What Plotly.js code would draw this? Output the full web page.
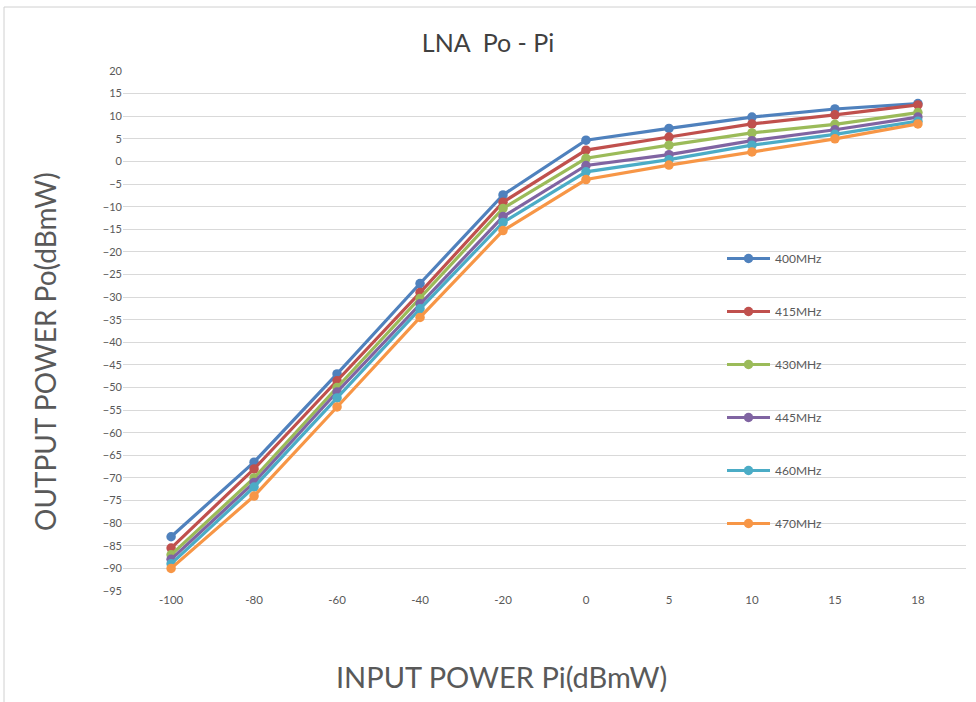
<!DOCTYPE html>
<html>
<head>
<meta charset="utf-8">
<script src="https://cdn.plot.ly/plotly-3.0.1.min.js"></script>
<style>html,body{margin:0;padding:0;background:#fff;}#chart{width:976px;height:702px;}</style>
</head>
<body>
<div id="chart"></div>
<script>
const inputPower = ["-100", "-80", "-60", "-40", "-20", "0", "5", "10", "15", "18"];
const seriesNames = ["400MHz", "415MHz", "430MHz", "445MHz", "460MHz", "470MHz"];
const po400 = [-83, -66.5, -47, -27, -7.4, 4.7, 7.3, 9.8, 11.6, 12.8];
const po415 = [-85.5, -68, -48.5, -29, -9, 2.5, 5.4, 8.3, 10.3, 12.5];
const po430 = [-87, -70, -50, -30.3, -10.4, 0.7, 3.6, 6.3, 8.2, 10.8];
const po445 = [-88, -71, -51, -31.5, -12.2, -0.9, 1.5, 4.6, 7, 9.8];
const po460 = [-89, -72, -52.3, -32.6, -13.5, -2.3, 0.4, 3.6, 6, 8.9];
const po470 = [-90, -74, -54.3, -34.5, -15.3, -4, -0.8, 2.1, 5, 8.3];
const seriesValues = [po400, po415, po430, po445, po460, po470];
const colors = ["#4F81BD", "#C0504D", "#9BBB59", "#8064A2", "#4BACC6", "#F79646"];

const traces = seriesNames.map((name, i) => ({
  type: "scatter",
  mode: "lines+markers",
  name: name,
  legendgroup: "g" + i,
  x: inputPower,
  y: seriesValues[i],
  line: {color: colors[i], width: 3.2},
  marker: {color: colors[i], size: 9.5}
}));

const W = 976, H = 702, L = 123, R = 10, T = 71, B = 111;
const pw = W - L - R, ph = H - T - B;
const px = v => (v - L) / pw;
const py = v => (H - B - v) / ph;

const layout = {
  width: W, height: H,
  margin: {l: L, r: R, t: T, b: B},
  paper_bgcolor: "#ffffff",
  plot_bgcolor: "#ffffff",
  font: {family: "Lato, 'Open Sans', sans-serif", color: "#595959"},
  title: {
    text: "LNA  Po - Pi",
    font: {family: "'Liberation Sans Narrow', Lato, sans-serif", size: 25, color: "#404040"},
    x: 488 / W, xref: "container", xanchor: "center",
    y: 1 - 43 / H, yref: "container", yanchor: "middle"
  },
  xaxis: {
    type: "category",
    categoryorder: "array",
    categoryarray: inputPower,
    automargin: false,
    showgrid: false,
    zeroline: false,
    showline: false,
    ticks: "",
    tickfont: {size: 11.5, color: "#595959"},
    title: {text: ""}
  },
  yaxis: {
    range: [-95, 20],
    dtick: 5,
    tick0: 0,
    automargin: false,
    showgrid: true,
    gridcolor: "#D9D9D9",
    gridwidth: 1,
    zeroline: false,
    showline: false,
    ticks: "",
    tickfont: {size: 11, color: "#595959"},
    title: {text: ""}
  },
  showlegend: true,
  legend: {
    x: px(722), xanchor: "left",
    y: py(244), yanchor: "top",
    bgcolor: "rgba(255,255,255,0)",
    font: {size: 12, color: "#595959"},
    tracegroupgap: 34,
    itemwidth: 43,
    traceorder: "grouped"
  },
  annotations: [
    {
      text: "INPUT POWER Pi(dBmW)",
      xref: "paper", yref: "paper",
      x: px(501), y: py(676),
      xanchor: "center", yanchor: "middle",
      showarrow: false,
      font: {size: 29, color: "#595959"}
    },
    {
      text: "OUTPUT POWER Po(dBmW)",
      xref: "paper", yref: "paper",
      x: px(45), y: py(352),
      xanchor: "center", yanchor: "middle",
      textangle: -90,
      showarrow: false,
      font: {size: 28, color: "#595959"}
    }
  ],
  shapes: [
    {type: "line", xref: "paper", yref: "paper", x0: px(4), x1: px(980), y0: py(7), y1: py(7), line: {color: "#D0D0D0", width: 1}},
    {type: "line", xref: "paper", yref: "paper", x0: px(4), x1: px(4), y0: py(7), y1: py(705), line: {color: "#D0D0D0", width: 1}}
  ]
};

Plotly.newPlot("chart", traces, layout, {displayModeBar: false, staticPlot: true});
</script>
</body>
</html>
